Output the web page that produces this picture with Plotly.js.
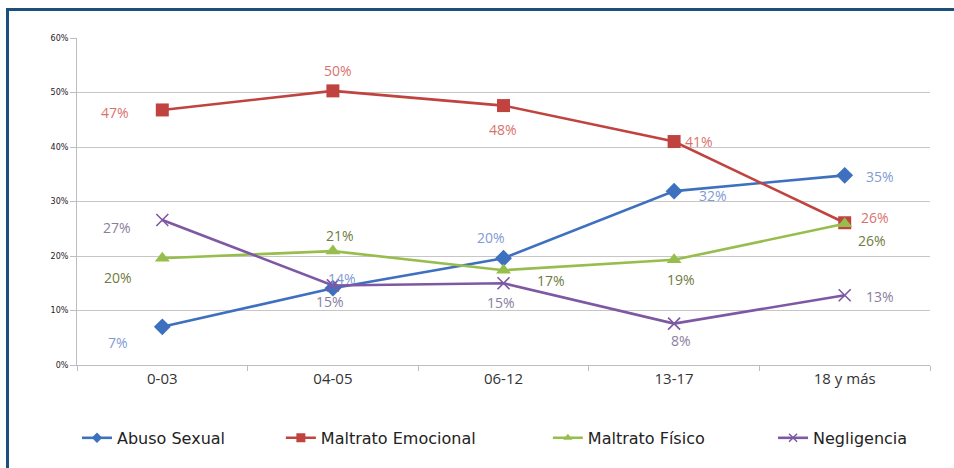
<!DOCTYPE html>
<html>
<head>
<meta charset="utf-8">
<script src="https://cdn.plot.ly/plotly-3.0.1.min.js"></script>
<style>
  html, body { margin: 0; padding: 0; background: #ffffff; }
  #wrap { position: relative; width: 954px; height: 468px; overflow: hidden; }
  #chart { position: absolute; left: 0; top: 0; width: 954px; height: 468px; }
  #frame { position: absolute; left: 6px; top: 8px; width: 960px; height: 480px;
           border-top: 3px solid #1d4f7c; border-left: 3px solid #1d4f7c;
           pointer-events: none; box-sizing: border-box; }
</style>
</head>
<body>
<div id="wrap">
  <div id="chart"></div>
  <div id="frame"></div>
</div>
<script>
// ---- data ----
const categories = ["0-03", "04-05", "06-12", "13-17", "18 y más"];
const abusoSexual = [7.0, 14.1, 19.6, 31.9, 34.8];
const maltratoEmocional = [46.8, 50.3, 47.6, 41.0, 26.1];
const maltratoFisico = [19.6, 20.9, 17.4, 19.3, 25.9];
const negligencia = [26.6, 14.6, 15.0, 7.6, 12.8];
const seriesNames = ["Abuso Sexual", "Maltrato Emocional", "Maltrato Físico", "Negligencia"];
const yTickValues = [0, 10, 20, 30, 40, 50, 60];

// ---- styles ----
const lineColors = ["#3e70c0", "#c0433f", "#97bd4c", "#7e58a3"];
const labelColors = ["#7f9bd3", "#d9726d", "#6f7b40", "#8a7e9e"];
const markerStyles = [
  {symbol: "diamond", size: 13},
  {symbol: "square", size: 13},
  {symbol: "triangle-up", size: 13},
  {symbol: "x-thin-open", size: 12}
];
const legendMarkerSizes = [8, 9, 8, 8];
const legendX = [0.0, 0.239, 0.552, 0.816];
// label offsets in px (dx right, dy down) per series per point
const labelDx = [
  [-44, 9, -13, 39, 35],
  [-47, 5, -1, 25, 30],
  [-44, 7, 47, 7, 27],
  [-45, -3, -3, 7, 35]
];
const labelDy = [
  [16, -10, -21, 4, 1],
  [3, -20, 24, 0, -5],
  [19, -16, 10, 20, 17],
  [7, 16, 19, 17, 1]
];

const allSeries = [abusoSexual, maltratoEmocional, maltratoFisico, negligencia];
const legendIds = ["legend", "legend2", "legend3", "legend4"];

const traces = allSeries.map((vals, i) => ({
  type: "scatter",
  mode: "lines+markers",
  name: seriesNames[i],
  x: categories,
  y: vals,
  showlegend: false,
  line: {color: lineColors[i], width: 2.6},
  marker: Object.assign({color: lineColors[i], line: {color: lineColors[i], width: i === 3 ? 1.6 : 0}}, markerStyles[i]),
  hoverinfo: "skip"
}));

// legend entries (no data points drawn)
allSeries.forEach((vals, i) => {
  traces.push({
    type: "scatter",
    mode: "lines+markers",
    name: seriesNames[i],
    x: [null], y: [null],
    legend: legendIds[i],
    showlegend: true,
    line: {color: lineColors[i], width: 2.6},
    marker: {color: lineColors[i], symbol: markerStyles[i].symbol, size: legendMarkerSizes[i],
             line: {color: lineColors[i], width: i === 3 ? 1.5 : 0}},
    hoverinfo: "skip"
  });
});

const annotations = [];
allSeries.forEach((vals, i) => {
  vals.forEach((v, j) => {
    annotations.push({
      x: categories[j], y: v, xref: "x", yref: "y",
      text: Math.round(v) + "%",
      showarrow: false,
      xshift: labelDx[i][j], yshift: -labelDy[i][j],
      font: {family: "Open Sans, Noto Sans, sans-serif", size: 14, color: labelColors[i]}
    });
  });
});

const legendFont = {family: "DejaVu Sans, sans-serif", size: 16, color: "#222222"};
const layout = {
  width: 954, height: 468,
  margin: {l: 77, r: 24, t: 38, b: 103},
  paper_bgcolor: "#ffffff",
  plot_bgcolor: "#ffffff",
  showlegend: true,
  xaxis: {
    type: "category",
    range: [-0.5, 4.5],
    showgrid: false,
    showline: true, linecolor: "#bdbdbd", linewidth: 1,
    ticks: "outside", ticklen: 5, tickcolor: "#bdbdbd", tickson: "boundaries",
    tickfont: {family: "Open Sans, Noto Sans, sans-serif", size: 15, color: "#333333"},
    zeroline: false, fixedrange: true
  },
  yaxis: {
    range: [0, 60],
    tickvals: yTickValues,
    ticktext: yTickValues.map(v => v + "%"),
    showgrid: true, gridcolor: "#c6c6c6", gridwidth: 1,
    showline: true, linecolor: "#bdbdbd", linewidth: 1,
    ticks: "outside", ticklen: 6, tickcolor: "#bdbdbd",
    tickfont: {family: "DejaVu Sans, sans-serif", size: 8, color: "#222222"},
    zeroline: false, fixedrange: true
  },
  annotations: annotations
};
legendIds.forEach((id, i) => {
  layout[id] = {
    orientation: "h", x: legendX[i], xanchor: "left", y: -0.223, yanchor: "middle",
    font: legendFont, bgcolor: "rgba(0,0,0,0)"
  };
});

Plotly.newPlot("chart", traces, layout, {displayModeBar: false, staticPlot: true});
</script>
</body>
</html>
